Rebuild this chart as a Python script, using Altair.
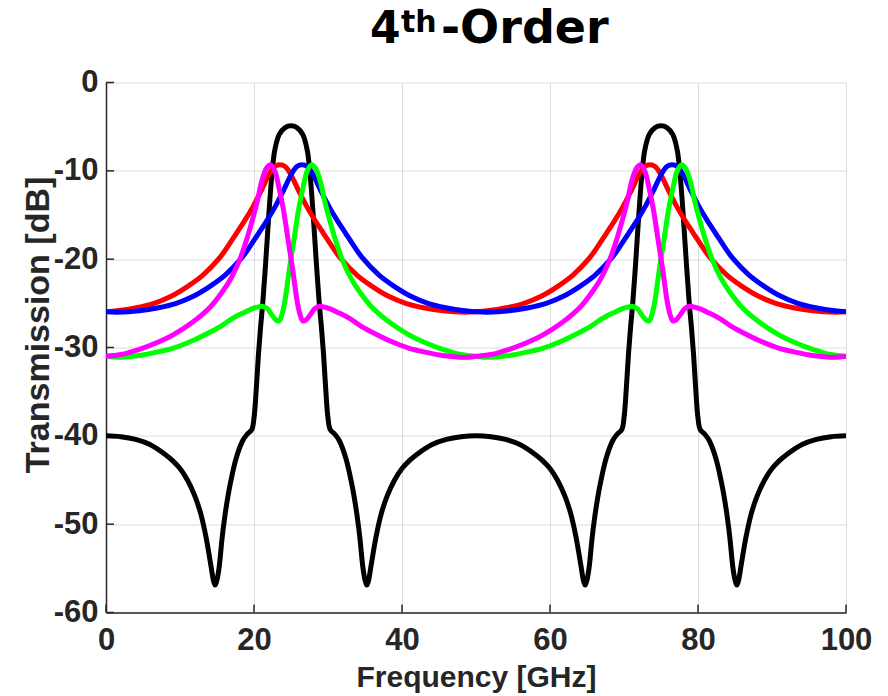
import altair as alt
import pandas as pd

# ---------------- data ----------------
X_TICKS = [0, 20, 40, 60, 80, 100]
Y_TICKS = [-60, -50, -40, -30, -20, -10, 0]

BLACK_F = [0, 2, 4, 6, 8, 9, 10, 11, 12, 12.8, 13.5, 14.2, 14.5, 14.75, 15.0, 15.3, 15.7, 16.2, 16.8, 17.6,
           18.5, 19.1, 19.7, 20.0, 20.3, 20.6, 20.9, 21.2, 21.6, 22.0, 22.4, 22.8, 23.4, 24.2, 25.0,
           25.8, 26.6, 27.2, 27.6, 28.0, 28.4, 28.8, 29.1, 29.4, 29.7, 30.0, 30.3, 30.9, 31.5, 32.4,
           33.2, 33.8, 34.3, 34.7, 35.0, 35.25, 35.5, 35.8, 36.5, 37.2, 38.0, 39.0, 40.0, 41.0, 42.0,
           44.0, 46.0, 48.0, 50.0,
           52, 54, 56, 58, 59, 60, 61, 62, 62.8, 63.5, 64.2, 64.5, 64.75, 65.0, 65.3, 65.7, 66.2, 66.8, 67.6,
           68.5, 69.1, 69.7, 70.0, 70.3, 70.6, 70.9, 71.2, 71.6, 72.0, 72.4, 72.8, 73.4, 74.2, 75.0,
           75.8, 76.6, 77.2, 77.6, 78.0, 78.4, 78.8, 79.1, 79.4, 79.7, 80.0, 80.3, 80.9, 81.5, 82.4,
           83.2, 83.8, 84.3, 84.7, 85.0, 85.25, 85.5, 85.8, 86.5, 87.2, 88.0, 89.0, 90.0, 91.0, 92.0,
           94.0, 96.0, 98.0, 100.0]
BLACK_DB = [-40.0, -40.1, -40.4, -41.0, -42.1, -42.8, -43.7, -45.0, -46.8, -48.8, -51.4, -54.8, -56.3, -56.9, -56.3, -54.8, -51.5, -48.3, -45.4, -42.5,
            -40.5, -39.8, -39.3, -38.0, -34.8, -30.8, -27.6, -24.8, -20.1, -15.0, -10.6, -7.7, -5.9, -5.1, -4.9,
            -5.1, -5.9, -7.7, -10.6, -15.0, -20.1, -24.8, -27.6, -30.8, -34.8, -38.0, -39.3, -39.8, -40.5, -42.5,
            -45.4, -48.3, -51.5, -54.8, -56.3, -56.9, -56.3, -54.8, -51.4, -48.8, -46.8, -45.0, -43.7, -42.8, -42.1,
            -41.0, -40.4, -40.1, -40.0,
            -40.1, -40.4, -41.0, -42.1, -42.8, -43.7, -45.0, -46.8, -48.8, -51.4, -54.8, -56.3, -56.9, -56.3, -54.8, -51.5, -48.3, -45.4, -42.5,
            -40.5, -39.8, -39.3, -38.0, -34.8, -30.8, -27.6, -24.8, -20.1, -15.0, -10.6, -7.7, -5.9, -5.1, -4.9,
            -5.1, -5.9, -7.7, -10.6, -15.0, -20.1, -24.8, -27.6, -30.8, -34.8, -38.0, -39.3, -39.8, -40.5, -42.5,
            -45.4, -48.3, -51.5, -54.8, -56.3, -56.9, -56.3, -54.8, -51.4, -48.8, -46.8, -45.0, -43.7, -42.8, -42.1,
            -41.0, -40.4, -40.1, -40.0]

RED_F = [0, 1.5, 4.1, 6.5, 8.8, 11.0, 13.1, 15.4, 16.5, 17.6, 18.7, 19.9, 21.0, 22.1, 22.8, 23.5,
         24.2, 24.9, 26.0, 27.1, 28.3, 29.4, 30.5, 31.6, 33.9, 36.0, 38.2, 40.5, 42.9, 45.5, 48.5, 50,
         51.5, 54.1, 56.5, 58.8, 61.0, 63.1, 65.4, 66.5, 67.6, 68.7, 69.9, 71.0, 72.1, 72.8, 73.5,
         74.2, 74.9, 76.0, 77.1, 78.3, 79.4, 80.5, 81.6, 83.9, 86.0, 88.2, 90.5, 92.9, 95.5, 98.5, 100]
RED_DB = [-25.95, -25.85, -25.5, -25.0, -24.2, -23.1, -21.8, -19.8, -18.5, -17.1, -15.7, -14.0, -12.2, -10.3, -9.5, -9.3,
          -9.5, -10.3, -12.2, -14.0, -15.7, -17.1, -18.5, -19.8, -21.8, -23.1, -24.2, -25.0, -25.5, -25.85, -26.0, -25.95,
          -25.85, -25.5, -25.0, -24.2, -23.1, -21.8, -19.8, -18.5, -17.1, -15.7, -14.0, -12.2, -10.3, -9.5, -9.3,
          -9.5, -10.3, -12.2, -14.0, -15.7, -17.1, -18.5, -19.8, -21.8, -23.1, -24.2, -25.0, -25.5, -25.85, -26.0, -25.95]

BLUE_F = [0, 1.5, 4.5, 7.1, 9.5, 11.8, 14.0, 16.1, 18.4, 19.5, 20.6, 21.7, 22.9, 24.0, 25.1, 25.8, 26.5,
          27.2, 27.9, 29.0, 30.1, 31.3, 32.4, 33.5, 34.6, 36.9, 39.0, 41.2, 43.5, 45.9, 48.5, 50,
          51.5, 54.5, 57.1, 59.5, 61.8, 64.0, 66.1, 68.4, 69.5, 70.6, 71.7, 72.9, 74.0, 75.1, 75.8, 76.5,
          77.2, 77.9, 79.0, 80.1, 81.3, 82.4, 83.5, 84.6, 86.9, 89.0, 91.2, 93.5, 95.9, 98.5, 100]
BLUE_DB = [-25.95, -26.0, -25.85, -25.5, -25.0, -24.2, -23.1, -21.8, -19.8, -18.5, -17.1, -15.7, -14.0, -12.2, -10.3, -9.5, -9.3,
           -9.5, -10.3, -12.2, -14.0, -15.7, -17.1, -18.5, -19.8, -21.8, -23.1, -24.2, -25.0, -25.5, -25.85, -25.95,
           -26.0, -25.85, -25.5, -25.0, -24.2, -23.1, -21.8, -19.8, -18.5, -17.1, -15.7, -14.0, -12.2, -10.3, -9.5, -9.3,
           -9.5, -10.3, -12.2, -14.0, -15.7, -17.1, -18.5, -19.8, -21.8, -23.1, -24.2, -25.0, -25.5, -25.85, -25.95]

GREEN_F = [0, 1.5, 4.5, 7, 9, 11.5, 13.5, 15.5, 17.1, 18.5, 19.8, 20.6, 21.2, 21.8, 22.4, 23.0, 23.4, 23.8, 24.2, 24.8,
           25.4, 26.0, 26.6, 27.2, 27.8, 28.3, 28.9, 29.6, 30.3, 31.0, 31.9, 33.0, 34.2, 36.0, 38.4, 41.0, 43.0, 45.5, 48.0, 50.0,
           51.5, 54.5, 57, 59, 61.5, 63.5, 65.5, 67.1, 68.5, 69.8, 70.6, 71.2, 71.8, 72.4, 73.0, 73.4, 73.8, 74.2, 74.8,
           75.4, 76.0, 76.6, 77.2, 77.8, 78.3, 78.9, 79.6, 80.3, 81.0, 81.9, 83.0, 84.2, 86.0, 88.4, 91.0, 93.0, 95.5, 98.0, 100.0]
GREEN_DB = [-31.0, -31.1, -30.9, -30.5, -30.1, -29.3, -28.5, -27.6, -26.7, -26.1, -25.6, -25.4, -25.35, -25.6, -26.3, -26.9, -27.0, -26.2, -24.6, -21.0,
            -17.8, -14.5, -12.0, -10.0, -9.3, -9.7, -11.0, -13.6, -15.8, -17.8, -20.0, -22.0, -23.6, -25.5, -27.2, -28.6, -29.4, -30.2, -30.8, -31.0,
            -31.1, -30.9, -30.5, -30.1, -29.3, -28.5, -27.6, -26.7, -26.1, -25.6, -25.4, -25.35, -25.6, -26.3, -26.9, -27.0, -26.2, -24.6, -21.0,
            -17.8, -14.5, -12.0, -10.0, -9.3, -9.7, -11.0, -13.6, -15.8, -17.8, -20.0, -22.0, -23.6, -25.5, -27.2, -28.6, -29.4, -30.2, -30.8, -31.0]

MAGENTA_F = [0, 2, 4.5, 7, 9, 11.6, 14, 15.8, 17, 18.1, 19, 19.7, 20.4, 21.1, 21.7, 22.2, 22.8, 23.4, 24.0, 24.6,
             25.2, 25.8, 26.2, 26.6, 27.0, 27.6, 28.2, 28.8, 29.4, 30.2, 31.5, 32.9, 34.5, 36.5, 38.5, 41, 43, 45.5, 48.5, 50,
             52, 54.5, 57, 59, 61.6, 64, 65.8, 67, 68.1, 69, 69.7, 70.4, 71.1, 71.7, 72.2, 72.8, 73.4, 74.0, 74.6,
             75.2, 75.8, 76.2, 76.6, 77.0, 77.6, 78.2, 78.8, 79.4, 80.2, 81.5, 82.9, 84.5, 86.5, 88.5, 91, 93, 95.5, 98.5, 100]
MAGENTA_DB = [-31.0, -30.8, -30.2, -29.4, -28.6, -27.2, -25.5, -23.6, -22.0, -20.0, -17.8, -15.8, -13.6, -11.0, -9.7, -9.3, -10.0, -12.0, -14.5, -17.8,
              -21.0, -24.6, -26.2, -27.0, -26.9, -26.3, -25.6, -25.35, -25.4, -25.6, -26.1, -26.7, -27.6, -28.5, -29.3, -30.1, -30.5, -30.9, -31.1, -31.0,
              -30.8, -30.2, -29.4, -28.6, -27.2, -25.5, -23.6, -22.0, -20.0, -17.8, -15.8, -13.6, -11.0, -9.7, -9.3, -10.0, -12.0, -14.5, -17.8,
              -21.0, -24.6, -26.2, -27.0, -26.9, -26.3, -25.6, -25.35, -25.4, -25.6, -26.1, -26.7, -27.6, -28.5, -29.3, -30.1, -30.5, -30.9, -31.1, -31.0]

SERIES = [
    ("black", BLACK_F, BLACK_DB, "#000000"),
    ("red", RED_F, RED_DB, "#ff0000"),
    ("blue", BLUE_F, BLUE_DB, "#0000ff"),
    ("green", GREEN_F, GREEN_DB, "#00ff00"),
    ("magenta", MAGENTA_F, MAGENTA_DB, "#ff00ff"),
]
for name, fs, ds, _ in SERIES:
    assert len(fs) == len(ds), (name, len(fs), len(ds))

# ---------------- chart ----------------
W, H = 740, 530
AX = "#262626"
LABEL_FONT = "Liberation Sans"

x_scale = alt.Scale(domain=[0, 100], nice=False, zero=False)
y_scale = alt.Scale(domain=[-60, 0], nice=False, zero=False)

x_axis = alt.Axis(values=X_TICKS, title="Frequency [GHz]", grid=True, ticks=False, tickSize=0,
                  labelFont=LABEL_FONT, labelFontSize=31, labelFontWeight="bold", labelColor=AX,
                  labelPadding=13, labelFlush=False,
                  titleFont=LABEL_FONT, titleFontSize=30, titleFontWeight="bold", titleColor=AX,
                  titleX=W / 2, titleY=73.5, titleBaseline="alphabetic", titleAlign="center",
                  domainColor=AX, domainWidth=1.5, gridColor="#dcdcdc", gridWidth=1)
y_axis = alt.Axis(values=Y_TICKS, title="Transmission [dB]", grid=True, ticks=False, tickSize=0,
                  labelExpr="'' + datum.value",
                  labelFont=LABEL_FONT, labelFontSize=31, labelFontWeight="bold", labelColor=AX,
                  labelPadding=8, labelFlush=False,
                  titleFont=LABEL_FONT, titleFontSize=34, titleFontWeight="bold", titleColor=AX,
                  titleX=-58, titleY=242, titleBaseline="alphabetic", titleAlign="center",
                  domainColor=AX, domainWidth=1.5, gridColor="#dcdcdc", gridWidth=1)

X_ENC = dict(field="f", type="quantitative", scale=x_scale, axis=x_axis)
Y_ENC = dict(field="db", type="quantitative", scale=y_scale, axis=y_axis)

# inward tick marks (MATLAB style) drawn first, under the curves
yticks = alt.Chart(pd.DataFrame({"db": Y_TICKS})).mark_rule(color=AX, strokeWidth=1.5).encode(
    y=alt.Y(**Y_ENC), x=alt.value(0), x2=alt.value(8))
xticks = alt.Chart(pd.DataFrame({"f": X_TICKS})).mark_rule(color=AX, strokeWidth=1.5).encode(
    x=alt.X(**X_ENC), y=alt.value(H), y2=alt.value(H - 8))

layers = []
for name, fs, ds, color in SERIES:
    df = pd.DataFrame({"f": fs, "db": ds})
    layers.append(
        alt.Chart(df).mark_line(color=color, strokeWidth=5, interpolate="catmull-rom", clip=True).encode(
            x=alt.X(**X_ENC), y=alt.Y(**Y_ENC))
    )


def title_part(text, x, y, size):
    return alt.Chart(pd.DataFrame({"k": [0]})).mark_text(
        text=text, font="DejaVu Sans", fontWeight="bold", fontSize=size, align="left",
        baseline="alphabetic", color="#000000").encode(x=alt.value(x), y=alt.value(y))


title_layers = [
    title_part("4", 264, -40, 44),
    title_part("th", 295, -51, 30),
    title_part("-Order", 335, -40, 46),
]

chart = alt.layer(yticks, xticks, *layers, *title_layers).properties(
    width=W, height=H,
    autosize=alt.AutoSizeParams(type="none"),
    padding={"left": 98, "top": 74.5, "right": 34, "bottom": 83.5},
).configure_view(stroke=None)

chart.save("out.html", embed_options={"renderer": "svg", "actions": False})
